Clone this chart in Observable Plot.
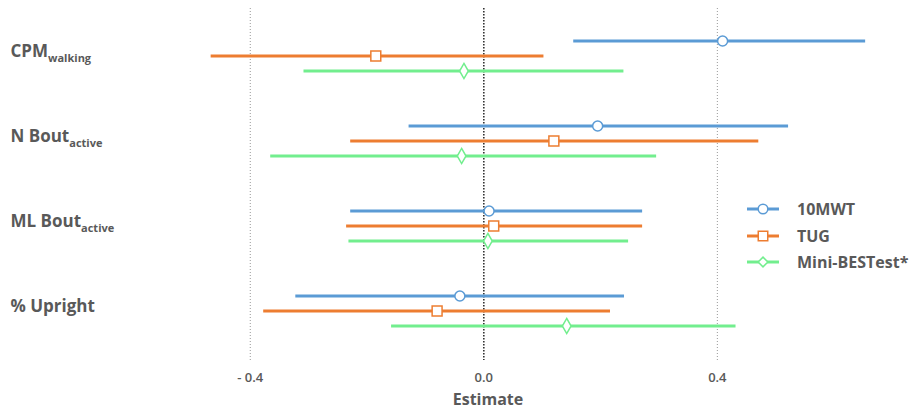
<!DOCTYPE html>
<html>
<head>
<meta charset="utf-8">
<script src="https://cdn.jsdelivr.net/npm/d3@7"></script>
<script src="https://cdn.jsdelivr.net/npm/@observablehq/plot@0.6"></script>
<style>
  body { margin: 0; background: #fff; font-family: "Open Sans", sans-serif; }
  #wrap { position: relative; width: 911px; height: 412px; }
  #legend { position: absolute; left: 746px; top: 196px; font-family: "Open Sans", sans-serif; font-weight: 700; font-size: 16px; color: #595959; }
  #legend .row { display: flex; align-items: center; height: 26.5px; }
  #legend svg { margin-right: 17px; }
</style>
</head>
<body>
<div id="wrap"><div id="legend"></div></div>
<script>
// ---- data ----
const categories = ["CPM", "N Bout", "ML Bout", "% Upright"];
const subscripts = ["walking", "active", "active", ""];
const seriesNames = ["10MWT", "TUG", "Mini-BESTest*"];
const seriesColors = ["#5B9BD5", "#ED7D31", "#72EE8E"];
const seriesSymbols = ["circle", "square", "diamond"];

const est10MWT = [0.409, 0.195, 0.009, -0.041];
const lo10MWT  = [0.154, -0.128, -0.228, -0.322];
const hi10MWT  = [0.654, 0.522, 0.272, 0.241];

const estTUG = [-0.185, 0.120, 0.017, -0.080];
const loTUG  = [-0.467, -0.228, -0.235, -0.377];
const hiTUG  = [0.103, 0.471, 0.272, 0.217];

const estMini = [-0.034, -0.038, 0.007, 0.142];
const loMini  = [-0.308, -0.365, -0.231, -0.158];
const hiMini  = [0.240, 0.296, 0.248, 0.432];

const xTicks = [-0.4, 0, 0.4];

// ---- build table ----
const estimates = [est10MWT, estTUG, estMini];
const lows = [lo10MWT, loTUG, loMini];
const highs = [hi10MWT, hiTUG, hiMini];
const rows = [];
seriesNames.forEach((s, si) => {
  categories.forEach((c, ci) => {
    rows.push({series: s, si, cat: c, est: estimates[si][ci], lo: lows[si][ci], hi: highs[si][ci]});
  });
});

const offsets = [-15, 0, 15];
const seriesMarks = seriesNames.flatMap((s, si) => {
  const d = rows.filter(r => r.si === si);
  const r = si === 0 ? 5 : si === 1 ? 5.6 : 4.6;
  return [
    Plot.ruleY(d, {y: "cat", x1: "lo", x2: "hi", dy: offsets[si], stroke: seriesColors[si], strokeWidth: 3}),
    Plot.dot(d, {x: "est", y: "cat", dy: offsets[si], symbol: seriesSymbols[si], r, fill: "white", stroke: seriesColors[si], strokeWidth: 1.5})
  ];
});

const fmt = d => d < 0 ? "- " + Math.abs(d).toFixed(1) : d.toFixed(1);

const chart = Plot.plot({
  width: 911,
  height: 412,
  marginLeft: 133,
  marginRight: 19,
  marginTop: 8,
  marginBottom: 52,
  style: {fontFamily: "'Open Sans', sans-serif", background: "white"},
  x: {domain: [-0.6, 0.7], axis: null},
  y: {domain: categories, type: "band", padding: 0, insetTop: 4, insetBottom: 6, axis: null},
  marks: [
    Plot.ruleX([-0.4, 0.4], {stroke: "#999", strokeWidth: 1, strokeDasharray: "1,2"}),
    Plot.ruleX([0], {stroke: "#333", strokeWidth: 1.6, strokeDasharray: "1.5,1.5"}),
    ...seriesMarks,
    Plot.axisX({ticks: xTicks, tickSize: 0, tickPadding: 12, tickFormat: fmt, fontSize: 13, fontWeight: 600, fill: "#595959", label: null}),
    Plot.text(["Estimate"], {frameAnchor: "bottom", dx: -25, dy: 44, fontSize: 16, fontWeight: 700, fill: "#595959"}),
    Plot.text(categories, {y: d => d, text: d => d, frameAnchor: "left", textAnchor: "start", dx: -123, dy: -4, fontSize: 17, fontWeight: 700, fill: "#595959"})
  ]
});

// add subscripts
d3.select(chart).selectAll("text").each(function() {
  const t = d3.select(this);
  const i = categories.indexOf(t.text());
  if (i < 0 || !subscripts[i]) return;
  const main = t.text();
  t.text(null);
  t.append("tspan").text(main);
  t.append("tspan").attr("font-size", 11).attr("dy", "0.45em").text(subscripts[i]);
});

document.getElementById("wrap").prepend(chart);

// legend
const legend = d3.select("#legend");
seriesNames.forEach((s, i) => {
  const row = legend.append("div").attr("class", "row");
  const svg = row.append("svg").attr("width", 34).attr("height", 16);
  svg.append("line").attr("x1", 1).attr("x2", 33).attr("y1", 8).attr("y2", 8).attr("stroke", seriesColors[i]).attr("stroke-width", 3);
  const sym = {circle: d3.symbolCircle, square: d3.symbolSquare, diamond: d3.symbolDiamond2}[seriesSymbols[i]];
  svg.append("path").attr("transform", "translate(17,8)").attr("d", d3.symbol(sym, i === 0 ? 72 : i === 1 ? 90 : 60)())
    .attr("fill", "white").attr("stroke", seriesColors[i]).attr("stroke-width", 1.5);
  row.append("span").text(s);
});
</script>
</body>
</html>
